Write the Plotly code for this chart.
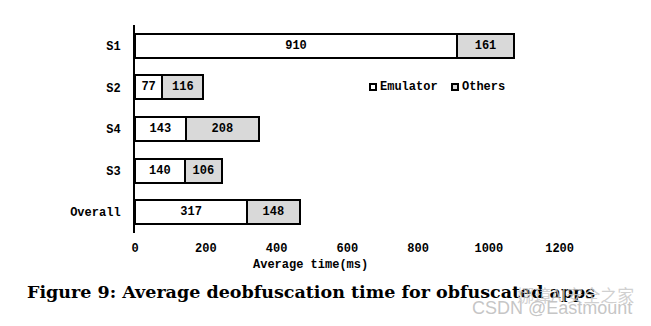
import plotly.graph_objects as go

categories = ["S1", "S2", "S4", "S3", "Overall"]
emulator = [910, 77, 143, 140, 317]
others = [161, 116, 208, 106, 148]
x_ticks = [0, 200, 400, 600, 800, 1000, 1200]

MONO = "Liberation Mono"
fig = go.Figure()
fig.add_trace(go.Bar(
    y=categories, x=emulator, orientation="h", name="Emulator",
    marker=dict(color="white", line=dict(color="black", width=2)),
    text=[str(v) for v in emulator], textposition="inside",
    insidetextanchor="middle", textangle=0,
    textfont=dict(family=MONO, size=12, color="black", weight="bold"),
    width=0.58,
))
fig.add_trace(go.Bar(
    y=categories, x=others, orientation="h", name="Others",
    marker=dict(color="#d9d9d9", line=dict(color="black", width=2)),
    text=[str(v) for v in others], textposition="inside",
    insidetextanchor="middle", textangle=0,
    textfont=dict(family=MONO, size=12, color="black", weight="bold"),
    width=0.58,
))

fig.update_layout(
    barmode="stack",
    width=651, height=326,
    margin=dict(l=135, r=56, t=25, b=93),
    paper_bgcolor="white", plot_bgcolor="white",
    showlegend=False,
    font=dict(family=MONO, size=12, color="black"),
    xaxis=dict(range=[0, 1300], tickvals=x_ticks, showgrid=False,
               zeroline=False, showline=False,
               tickfont=dict(family=MONO, size=12, color="black", weight="bold"),
               ticklabelstandoff=6),
    yaxis=dict(categoryorder="array", categoryarray=categories,
               autorange="reversed", showgrid=False, zeroline=False,
               showline=True, linecolor="black", linewidth=2,
               tickfont=dict(family=MONO, size=12, color="black", weight="bold"),
               ticklabelstandoff=10),
)

# legend drawn manually (compact symbol/text spacing)
legend_items = [("Emulator", "white", 370), ("Others", "#d9d9d9", 452)]
for name, col, px in legend_items:
    fig.add_shape(type="rect", xref="paper", yref="paper",
                  x0=(px - 135) / 460, x1=(px + 6 - 135) / 460,
                  y0=(233 - 90) / 208, y1=(233 - 84) / 208,
                  fillcolor=col, line=dict(color="black", width=2))
    fig.add_annotation(text=name, xref="paper", yref="paper",
                       x=(px + 8 - 135) / 460, y=(233 - 87) / 208,
                       xanchor="left", yanchor="middle", showarrow=False,
                       font=dict(family=MONO, size=12, color="black", weight="bold"))

fig.add_annotation(text="Average time(ms)", xref="paper", yref="paper",
                   x=(310 - 135) / 460, y=-(265 - 233) / 208,
                   xanchor="center", yanchor="middle", showarrow=False,
                   font=dict(family=MONO, size=12, color="black", weight="bold"))

fig.add_annotation(text="Figure 9: Average deobfuscation time for obfuscated apps",
                   xref="paper", yref="paper",
                   x=(25 - 135) / 460, y=-(292 - 233) / 208,
                   xanchor="left", yanchor="middle", showarrow=False,
                   font=dict(family="DejaVu Serif", size=17.5, color="black", weight="bold"))

fig.add_annotation(text="娜璋AI安全之家", xref="paper", yref="paper",
                   x=(575 - 135) / 460, y=-(294 - 233) / 208,
                   xanchor="center", yanchor="middle", showarrow=False,
                   font=dict(family="Noto Sans CJK SC", size=17, color="rgba(200,200,200,0.85)"))
fig.add_annotation(text="CSDN @Eastmount", xref="paper", yref="paper",
                   x=(634 - 135) / 460, y=-(308 - 233) / 208,
                   xanchor="right", yanchor="middle", showarrow=False,
                   font=dict(family="Liberation Sans", size=18, color="rgba(190,190,190,0.9)"))

fig.write_html("out.html")
